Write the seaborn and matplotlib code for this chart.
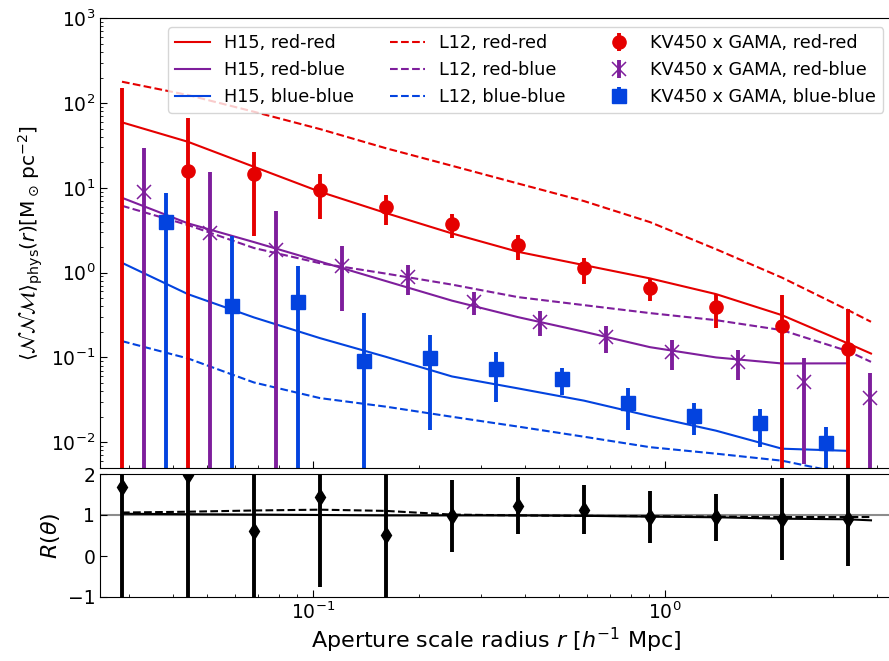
import matplotlib
matplotlib.use("Agg")
import matplotlib.pyplot as plt
import seaborn as sns

# Aperture radii of the measurement bins [h^-1 Mpc]
r_bins = [0.02867, 0.04414, 0.06798, 0.1047, 0.1612, 0.2482, 0.3822,
          0.5886, 0.9066, 1.396, 2.149, 3.311]
# Radii at which the model predictions are tabulated
r_model = [0.02867, 0.04414, 0.06798, 0.1047, 0.1612, 0.2482, 0.3822,
           0.5886, 0.9066, 1.396, 2.149, 3.311, 3.848]

# Model predictions <NNM>_phys [M_sun pc^-2]
h15_rr = [59.2, 34.9, 17.7, 8.98, 5.04, 2.90, 1.76, 1.226, 0.854, 0.558, 0.315, 0.146, 0.111]
h15_rb = [7.63, 3.81, 2.29, 1.35, 0.794, 0.467, 0.2985, 0.2008, 0.132, 0.0999, 0.0848, 0.0851]
h15_bb = [1.305, 0.557, 0.296, 0.1687, 0.1015, 0.0596, 0.0431, 0.0309, 0.0203, 0.01367, 0.00838, 0.0079]
l12_rr = [178.4, 124.3, 78.9, 49.3, 29.3, 18.2, 11.25, 6.98, 3.94, 1.89, 0.873, 0.361, 0.263]
l12_rb = [6.14, 3.64, 1.95, 1.29, 0.973, 0.722, 0.514, 0.4135, 0.333, 0.275, 0.2097, 0.1185, 0.0886]
l12_bb = [0.1555, 0.0972, 0.0506, 0.0331, 0.02623, 0.01994, 0.01528, 0.0116, 0.00873, 0.00732, 0.00605, 0.00419, 0.0036]

# KV450 x GAMA measurements and 1-sigma errors
kv_rr = [0.001, 15.9, 14.4, 9.4, 5.93, 3.73, 2.09, 1.12, 0.65, 0.395, 0.235, 0.125]
kv_rr_err = [152, 50, 11.7, 5.1, 2.25, 1.15, 0.70, 0.38, 0.19, 0.17, 0.31, 0.245]
kv_rb = [8.83, 2.90, 1.84, 1.20, 0.892, 0.452, 0.263, 0.175, 0.1144, 0.0886, 0.0515, 0.0328]
kv_rb_err = [20.9, 12.3, 3.5, 0.85, 0.35, 0.135, 0.085, 0.062, 0.044, 0.035, 0.046, 0.033]
kv_bb = [3.91, 0.403, 0.449, 0.0904, 0.098, 0.0726, 0.0553, 0.0291, 0.0203, 0.01663, 0.00982]
kv_bb_err = [4.7, 2.3, 0.75, 0.24, 0.084, 0.043, 0.0194, 0.015, 0.0083, 0.0078, 0.0054]

# Ratio R(theta) of the measurement and models
ratio = [1.68, 1.98, 0.62, 1.44, 0.51, 0.975, 1.23, 1.13, 0.95, 0.94, 0.90, 0.90]
ratio_err = [3.0, 3.2, 2.5, 2.2, 2.5, 0.88, 0.70, 0.60, 0.63, 0.57, 1.0, 1.14]
ratio_h15 = [1.03, 1.02, 1.01, 1.00, 0.99, 0.99, 0.99, 0.98, 0.96, 0.945, 0.91, 0.895, 0.87]
ratio_l12 = [1.06, 1.08, 1.11, 1.13, 1.10, 1.01, 0.99, 0.98, 0.97, 0.96, 0.95, 0.95, 0.95]

RED, PURPLE, BLUE = "#e50000", "#7e1e9c", "#0343df"
# small horizontal shifts so the three colour samples do not overlap
shift_rb = 10 ** 0.0625
shift_bb = 10 ** 0.125

W, H = 889, 661
fig = plt.figure(figsize=(W / 100, H / 100), dpi=100)


def box(x0, y0, x1, y1):
    return [x0 / W, 1 - y1 / H, (x1 - x0) / W, (y1 - y0) / H]


ax = fig.add_axes(box(100, 18.25, 892, 467.7))
axr = fig.add_axes(box(100, 474, 892, 597))

for a in (ax, axr):
    a.set_xscale("log")
    a.set_xlim(0.02483, 4.415)
ax.set_yscale("log")
ax.set_ylim(0.005, 1000)

handles = []
for vals, col, ls, lab in [
    (h15_rr, RED, "-", "H15, red-red"),
    (h15_rb, PURPLE, "-", "H15, red-blue"),
    (h15_bb, BLUE, "-", "H15, blue-blue"),
    (l12_rr, RED, "--", "L12, red-red"),
    (l12_rb, PURPLE, "--", "L12, red-blue"),
    (l12_bb, BLUE, "--", "L12, blue-blue"),
]:
    sns.lineplot(x=r_model[:len(vals)], y=vals, color=col, linestyle=ls,
                 linewidth=1.5, ax=ax, label=lab, legend=False)
    handles.append(ax.get_lines()[-1])

e1 = ax.errorbar(r_bins, kv_rr, yerr=kv_rr_err, fmt="o", color=RED, ms=9.5,
                 elinewidth=2.8, capsize=0, label="KV450 x GAMA, red-red")
e2 = ax.errorbar([r * shift_rb for r in r_bins], kv_rb, yerr=kv_rb_err, fmt="x",
                 color=PURPLE, ms=10, mew=1.1, elinewidth=2.8, capsize=0,
                 label="KV450 x GAMA, red-blue")
e3 = ax.errorbar([r * shift_bb for r in r_bins[:len(kv_bb)]], kv_bb, yerr=kv_bb_err,
                 fmt="s", color=BLUE, ms=9.5, elinewidth=2.8, capsize=0,
                 label="KV450 x GAMA, blue-blue")
handles += [e1, e2, e3]

ax.legend(handles=handles, labels=[h.get_label() for h in handles], ncol=3,
          loc="upper right", fontsize=12.7)

ax.set_ylabel(r"$\langle \mathcal{N}\mathcal{N}\mathcal{M}\rangle_{\rm phys}(r)"
              r"[\mathrm{M}_\odot\,\mathrm{pc}^{-2}]$", fontsize=14.5)
ax.tick_params(labelbottom=False)

# ratio panel
axr.axhline(1, color="0.55", lw=1.5, zorder=1)
sns.lineplot(x=r_model, y=ratio_h15, color="black", linestyle="-", lw=1.5, ax=axr)
sns.lineplot(x=r_model, y=ratio_l12, color="black", linestyle="--", lw=1.5, ax=axr)
axr.errorbar(r_bins, ratio, yerr=ratio_err, fmt="d", color="black", ms=8,
             elinewidth=2.8, capsize=0)
axr.set_ylim(-1, 2)
axr.set_yticks([-1, 0, 1, 2])
axr.set_ylabel(r"$R(\theta)$", fontsize=16)
axr.set_xlabel(r"Aperture scale radius $r$ [$h^{-1}$ Mpc]", fontsize=16, labelpad=2)

for a in (ax, axr):
    a.tick_params(which="both", direction="in")
    a.tick_params(which="major", labelsize=13.5, length=5)
    a.tick_params(which="minor", length=2.5)

fig.align_ylabels([ax, axr])
fig.savefig("out.png", dpi=100)
